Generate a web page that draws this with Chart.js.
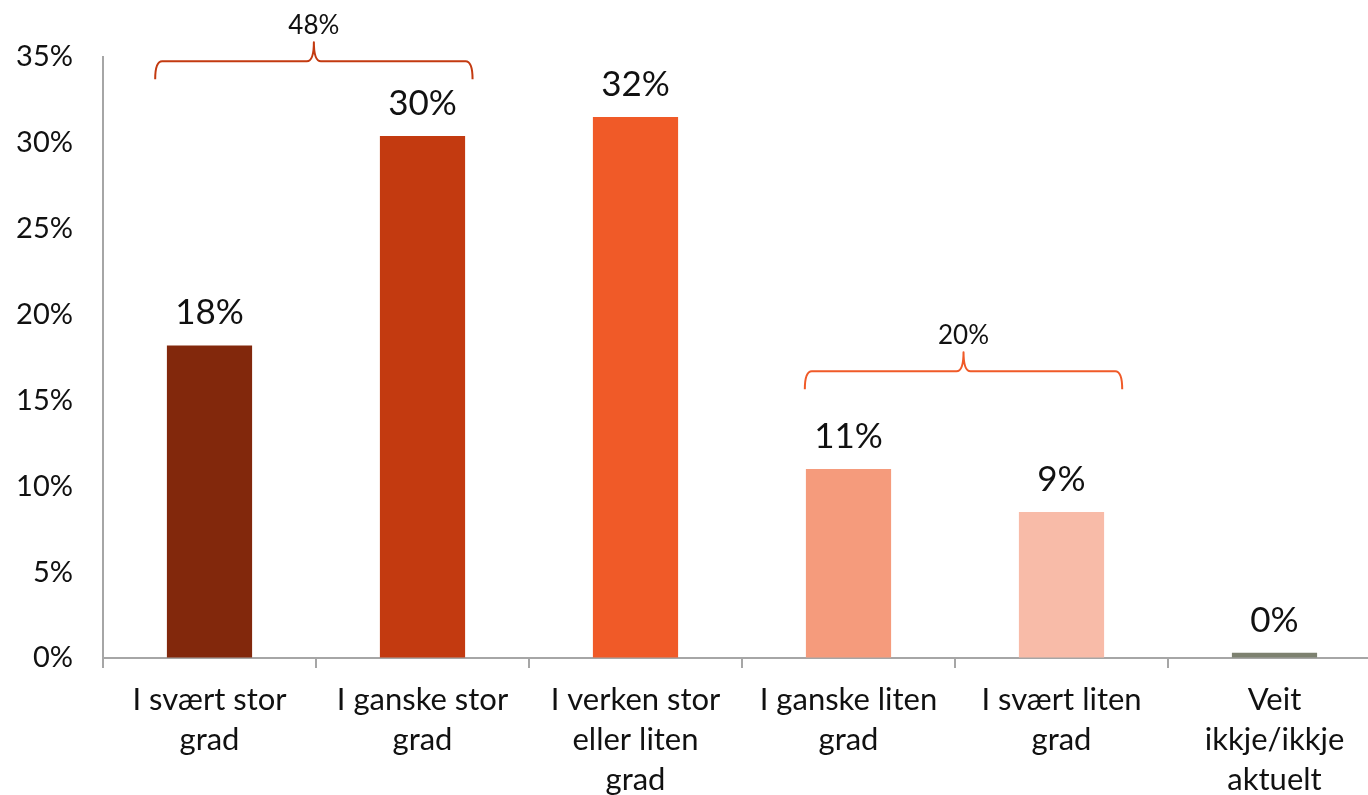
<!DOCTYPE html>
<html>
<head>
<meta charset="utf-8">
<script src="https://cdn.jsdelivr.net/npm/chart.js@4.4.1/dist/chart.umd.min.js"></script>
<style>
  html, body { margin: 0; padding: 0; background: #ffffff; overflow: hidden; }
  canvas { display: block; }
</style>
</head>
<body>
<canvas id="chart" width="1381" height="795"></canvas>
<script>
// ---- data ----
const categories = [
  ["I svært stor", "grad"],
  ["I ganske stor", "grad"],
  ["I verken stor", "eller liten", "grad"],
  ["I ganske liten", "grad"],
  ["I svært liten", "grad"],
  ["Veit", "ikkje/ikkje", "aktuelt"]
];
const values = [18.2, 30.4, 31.5, 11.0, 8.5, 0.3];
const valueLabels = ["18%", "30%", "32%", "11%", "9%", "0%"];
const yTickValues = [0, 5, 10, 15, 20, 25, 30, 35];
const groupLabels = ["48%", "20%"];
const groupMembers = [[0, 1], [3, 4]];

// ---- styles ----
const barColors = ["#82280C", "#C33A10", "#F05A28", "#F59B7C", "#F8BBA8", "#7D8170"];
const bracketColors = ["#C33A10", "#F05A28"];
const bracketLevels = [34.75, 16.7]; // y level (in axis units) of each bracket's bar
const bracketShift = [-0.01, 0.04];  // horizontal nudge (in category units)
const FONT = "Lato, 'Open Sans', sans-serif";
const axisColor = "#A6A6A6";

const valueLabelPlugin = {
  id: "valueLabels",
  afterDatasetsDraw(chart) {
    const ctx = chart.ctx;
    const meta = chart.getDatasetMeta(0);
    ctx.save();
    ctx.font = "35px " + FONT;
    ctx.fillStyle = "#111111";
    ctx.textAlign = "center";
    ctx.textBaseline = "alphabetic";
    meta.data.forEach((bar, i) => {
      ctx.fillText(valueLabels[i], bar.x, bar.y - 21);
    });
    ctx.restore();
  }
};

const bracketPlugin = {
  id: "brackets",
  afterDatasetsDraw(chart) {
    const ctx = chart.ctx;
    const xs = chart.scales.x, ys = chart.scales.y;
    ctx.save();
    groupMembers.forEach((members, g) => {
      const a = members[0], b = members[members.length - 1];
      const mid = (a + b) / 2 + bracketShift[g];
      const half = (b - a) / 2 + 0.245;
      const x0 = xs.getPixelForValue(mid - half);
      const x1 = xs.getPixelForValue(mid + half);
      const xc = xs.getPixelForValue(mid);
      const y = ys.getPixelForValue(bracketLevels[g]);
      const drop = 18, rise = 19, r = 7;
      ctx.strokeStyle = bracketColors[g];
      ctx.lineWidth = 2;
      ctx.lineJoin = "round";
      ctx.beginPath();
      ctx.moveTo(x0, y + drop);
      ctx.quadraticCurveTo(x0, y, x0 + r, y);
      ctx.lineTo(xc - r, y);
      ctx.quadraticCurveTo(xc, y, xc, y - rise);
      ctx.quadraticCurveTo(xc, y, xc + r, y);
      ctx.lineTo(x1 - r, y);
      ctx.quadraticCurveTo(x1, y, x1, y + drop);
      ctx.stroke();
      ctx.font = "26px " + FONT;
      ctx.fillStyle = "#111111";
      ctx.textAlign = "center";
      ctx.textBaseline = "alphabetic";
      ctx.fillText(groupLabels[g], xc, y - 27);
    });
    ctx.restore();
  }
};

new Chart(document.getElementById("chart"), {
  type: "bar",
  data: {
    labels: categories,
    datasets: [{
      data: values,
      backgroundColor: barColors,
      borderWidth: 0,
      barPercentage: 0.40,
      categoryPercentage: 1.0
    }]
  },
  options: {
    responsive: false,
    devicePixelRatio: 1,
    animation: false,
    layout: { padding: { top: 57, left: 0, right: 0, bottom: 0 } },
    plugins: {
      legend: { display: false },
      tooltip: { enabled: false },
      title: { display: false }
    },
    scales: {
      x: {
        offset: true,
        grid: {
          display: true,
          drawOnChartArea: false,
          drawTicks: true,
          tickLength: 10,
          color: axisColor,
          lineWidth: 2,
          offset: true
        },
        border: { display: true, color: axisColor, width: 2 },
        ticks: {
          color: "#111111",
          font: { family: FONT, size: 31, lineHeight: 40 / 31 },
          padding: 12,
          maxRotation: 0,
          autoSkip: false
        },
        afterFit(scale) { scale.height = 137; }
      },
      y: {
        min: 0,
        max: 35,
        afterBuildTicks(scale) { scale.ticks = yTickValues.map(v => ({ value: v })); },
        grid: { display: true, drawOnChartArea: false, drawTicks: false },
        border: { display: true, color: axisColor, width: 2 },
        ticks: {
          color: "#111111",
          font: { family: FONT, size: 29 },
          padding: 30,
          callback: (v) => v + "%"
        },
        afterFit(scale) { scale.width = 103; }
      }
    }
  },
  plugins: [valueLabelPlugin, bracketPlugin]
});
</script>
</body>
</html>
